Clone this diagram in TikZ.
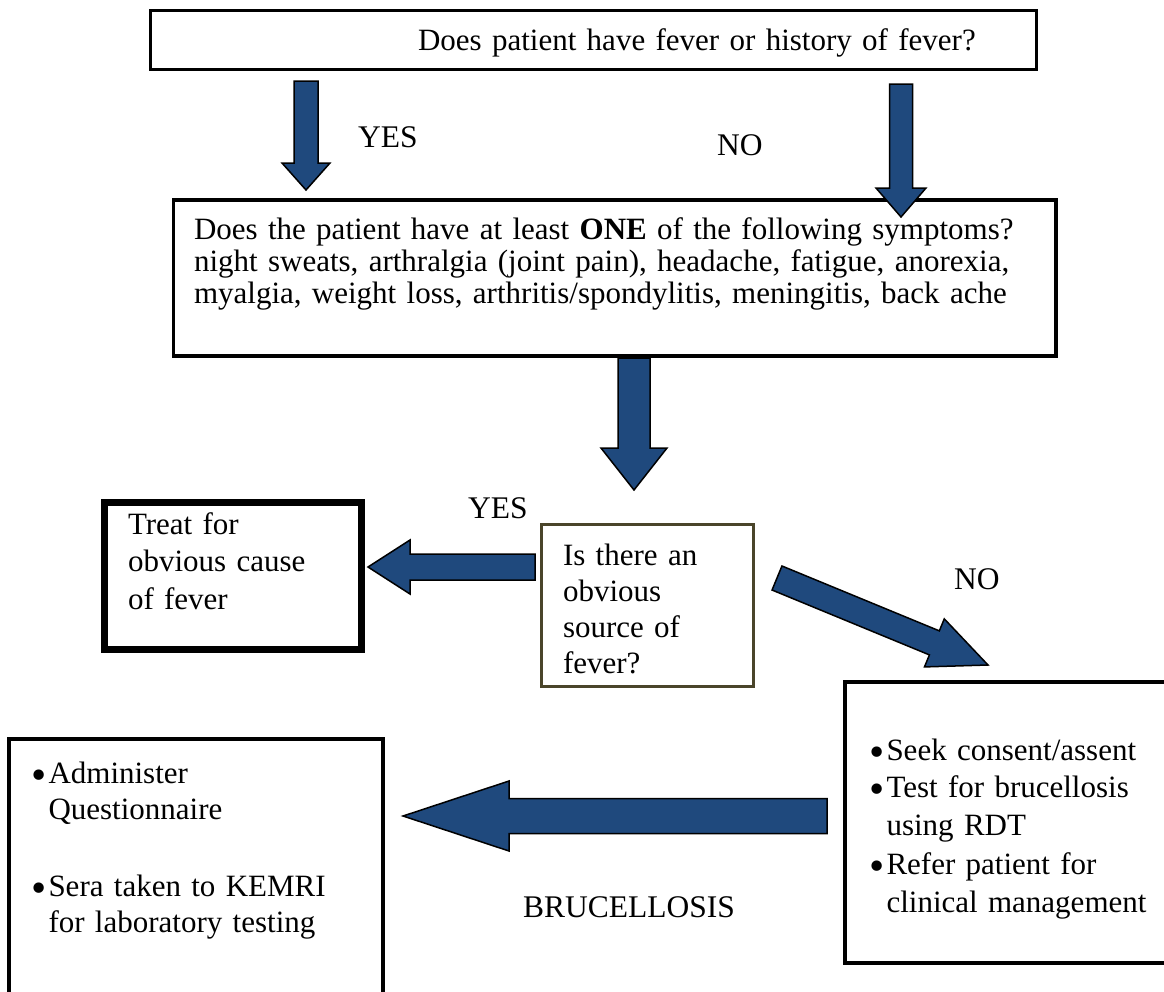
\documentclass[tikz,border=0pt]{standalone}
\usepackage{fontspec}
\setmainfont{Liberation Serif}
\usetikzlibrary{calc}
\definecolor{arrowblue}{HTML}{1F497D}
\definecolor{framebrown}{HTML}{4A452A}
\newcommand{\bul}[1]{\hangindent=16.5pt\hangafter=1\noindent
  \makebox[16.5pt][l]{\hspace*{-1pt}\raisebox{-6pt}{\scalebox{1.4}{\textbullet}}}#1\par}

\begin{document}
\begin{tikzpicture}[
  x=1pt, y=-1pt,
  box/.style={draw, anchor=north west, align=left, inner ysep=0pt, outer sep=0pt,
              line width=3.5pt, font=\fontsize{31}{37.5}\selectfont},
  lbl/.style={anchor=base west, inner sep=0pt, font=\fontsize{31.5}{37.5}\selectfont},
  blockarr/.style n args={3}{fill=arrowblue, draw=black, line width=1.5pt,
    to path={let \p1=(\tikztostart), \p2=(\tikztotarget),
      \n1={atan2(\y2-\y1,\x2-\x1)}, \n2={veclen(\x2-\x1,\y2-\y1)-#3} in
      ($(\p1)+(\n1+90:#1)$) -- ($(\p1)+(\n1:\n2*1pt)+(\n1+90:#1)$)
      -- ($(\p1)+(\n1:\n2*1pt)+(\n1+90:#2)$) -- (\p2)
      -- ($(\p1)+(\n1:\n2*1pt)+(\n1-90:#2)$) -- ($(\p1)+(\n1:\n2*1pt)+(\n1-90:#1)$)
      -- ($(\p1)+(\n1-90:#1)$) -- cycle}}
]
\useasboundingbox (0,0) rectangle (1164,991);

% boxes
\node[box, text width=841pt, inner xsep=22.5pt, text height=39.5pt, text depth=19.5pt]
  (fever) at (150.5,10.5) {\hspace*{245pt}Does patient have fever or history of fever?};
\node[box, text width=841.5pt, inner xsep=20.5pt, text height=39pt, text depth=117pt,
      font=\fontsize{31}{32}\selectfont]
  (symp) at (173.5,200) {\hyphenpenalty=10000\relax
  Does the patient have at least \textbf{ONE} of the following symptoms?\\
  night sweats, arthralgia (joint pain), headache, fatigue, anorexia,\\
  myalgia, weight loss, arthritis/spondylitis, meningitis, back ache};
\node[box, line width=7pt, text width=210pt, inner xsep=23.5pt, text height=31.5pt, text depth=115pt]
  (treat) at (104.5,502.5) {Treat for\\ obvious cause\\ of fever};
\node[box, draw=framebrown, line width=3pt, text width=169pt, inner xsep=21.5pt,
      text height=41pt, text depth=121.5pt, font=\fontsize{31}{36}\selectfont]
  (source) at (541.5,524) {Is there an\\ obvious\\ source of\\ fever?};
\node[box, text width=290pt, inner xsep=25pt, text height=78pt, text depth=203pt]
  (consent) at (845,682) {\bul{Seek consent/assent}\bul{Test for brucellosis\newline using RDT}%
  \vspace{2pt}\bul{Refer patient for\newline clinical management}};
\node[box, text width=328pt, inner xsep=23pt, text height=44pt, text depth=217pt,
      font=\fontsize{31}{36.5}\selectfont]
  (quest) at (9,739) {\bul{Administer\newline Questionnaire}\vspace{40pt}%
  \bul{Sera taken to KEMRI\newline for laboratory testing}};

% labels
\node[lbl] (yes1) at (358,147) {YES};
\node[lbl] (no1)  at (717,155) {NO};
\node[lbl] (yes2) at (468,518) {YES};
\node[lbl] (no2)  at (954,589) {NO};
\node[lbl] (bruc) at (523,917) {BRUCELLOSIS};

% arrow ends
\coordinate (yesA)  at ($(fever.south west)+(155.5,11.5)$);
\coordinate (yesB)  at ($(symp.north west)+(132.5,-10)$);
\coordinate (noA)   at ($(fever.south west)+(750.5,14.5)$);
\coordinate (noB)   at ($(symp.north west)+(727.5,17)$);
\coordinate (downA) at ($(symp.south)+(19.25,2)$);
\coordinate (downB) at ($(source.north)+(-13.5,-34)$);
\coordinate (leftA) at ($(source.west)+(-6.5,-38.25)$);
\coordinate (leftB) at ($(treat.east)+(6.5,-8.75)$);
\coordinate (diagA) at ($(source.north east)+(23.5,54)$);
\coordinate (diagB) at ($(consent.north west)+(143,-17)$);
\coordinate (brucA) at ($(consent.north west)+(-18,134)$);
\coordinate (brucB) at ($(quest.north east)+(20,77)$);

% block arrows
\draw[blockarr={12pt}{24pt}{27pt}] (yesA) to (yesB);
\draw[blockarr={11.5pt}{25pt}{29pt}] (noA) to (noB);
\draw[blockarr={16pt}{33pt}{42pt}] (downA) to (downB);
\draw[blockarr={13pt}{27pt}{42pt}] (leftA) to (leftB);
\draw[blockarr={13pt}{26pt}{58pt}] (diagA) to (diagB);
\draw[blockarr={17.5pt}{35pt}{106pt}] (brucA) to (brucB);
\end{tikzpicture}
\end{document}
